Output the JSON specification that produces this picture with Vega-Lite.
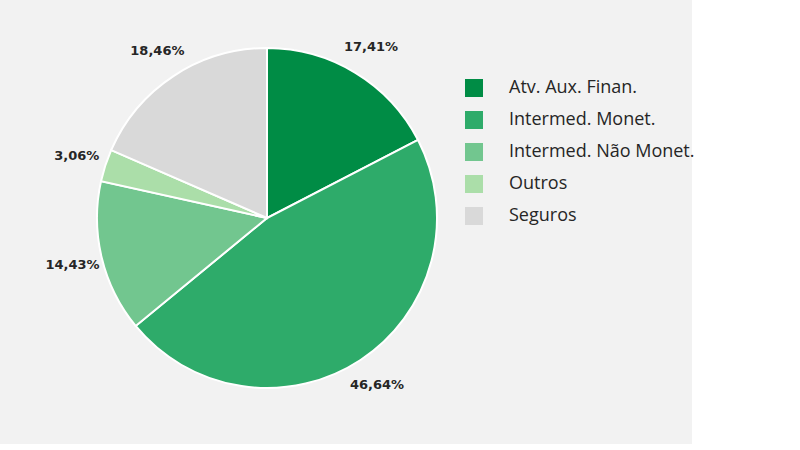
{
  "$schema": "https://vega.github.io/schema/vega-lite/v6.json",
  "width": 692,
  "height": 444,
  "autosize": {"type": "none"},
  "padding": {"left": 0, "top": 0, "right": 108, "bottom": 6},
  "background": "white",
  "view": {"fill": "#f2f2f2", "stroke": null},
  "data": {
    "values": [
      {"categoria": "Atv. Aux. Finan.", "share": 0.1741},
      {"categoria": "Intermed. Monet.", "share": 0.4664},
      {"categoria": "Intermed. Não Monet.", "share": 0.1443},
      {"categoria": "Outros", "share": 0.0306},
      {"categoria": "Seguros", "share": 0.1846}
    ]
  },
  "encoding": {
    "theta": {"field": "share", "type": "quantitative", "stack": true},
    "order": {"field": "categoria", "type": "ordinal"}
  },
  "layer": [
    {
      "mark": {"type": "arc", "x": 267, "y": 218, "outerRadius": 170, "stroke": "white", "strokeWidth": 2},
      "encoding": {
        "color": {
          "field": "categoria",
          "type": "nominal",
          "scale": {
            "domain": ["Atv. Aux. Finan.", "Intermed. Monet.", "Intermed. Não Monet.", "Outros", "Seguros"],
            "range": ["#008c45", "#2eab6a", "#72c68f", "#abdea9", "#d9d9d9"]
          },
          "legend": {
            "orient": "none",
            "legendX": 465,
            "legendY": 79,
            "title": null,
            "symbolType": "square",
            "symbolSize": 324,
            "symbolStrokeWidth": 0,
            "labelFont": "Open Sans",
            "labelFontSize": 18,
            "labelColor": "#262626",
            "labelLimit": 0,
            "rowPadding": 14,
            "labelOffset": 26
          }
        }
      }
    },
    {
      "mark": {"type": "text", "x": 267, "y": 218, "radius": 200, "font": "DejaVu Sans", "fontWeight": "bold", "fontSize": 13, "fill": "#262626"},
      "encoding": {
        "text": {"field": "share", "type": "quantitative", "format": ".2%"}
      }
    }
  ],
  "config": {
    "locale": {
      "number": {"decimal": ",", "thousands": ".", "grouping": [3], "currency": ["R$", ""]}
    }
  }
}
